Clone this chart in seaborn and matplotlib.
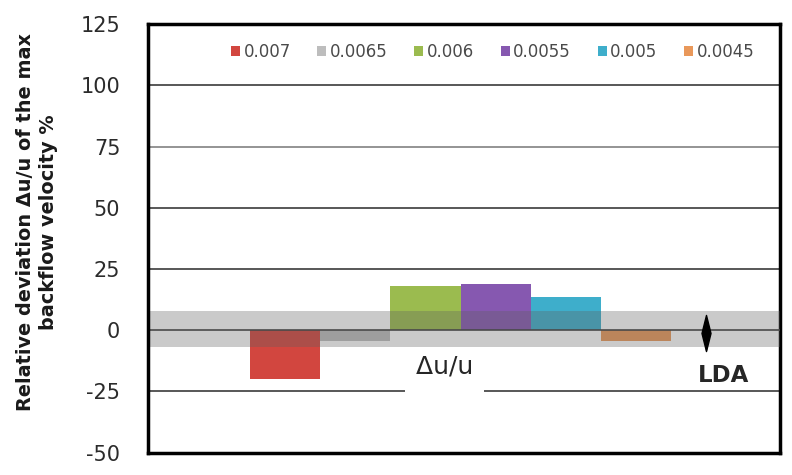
import matplotlib
matplotlib.use("Agg")
import matplotlib.pyplot as plt
import seaborn as sns
import pandas as pd
from matplotlib.path import Path

# data
series = ["0.007", "0.0065", "0.006", "0.0055", "0.005", "0.0045"]
deviation = [-20, -4.5, 18, 19, 13.5, -4.5]
colors = ["#d2463f", "#bdbdbd", "#9bbb4f", "#8658b0", "#3eaecb", "#e9985a"]
band_low, band_high = -7, 8
lda_pos, lda_value = 6, 0
yticks = [-50, -25, 0, 25, 50, 75, 100, 125]

df = pd.DataFrame({"series": series, "deviation": deviation})

sns.set_style("white")
plt.rcParams["font.family"] = ["DejaVu Sans"]
plt.rcParams["axes.unicode_minus"] = False

fig = plt.figure(figsize=(7.92, 4.75), dpi=100)
ax = fig.add_axes([0.187, 0.047, 0.798, 0.902])

sns.barplot(data=df, x="series", y="deviation", hue="series", palette=colors,
            width=1.0, legend=True, ax=ax, zorder=2, saturation=1, linewidth=0)

ax.set_xlim(-1.95, 7.05)
ax.set_ylim(-50, 125)
ax.set_yticks(yticks)
ax.set_xticks([])
ax.set_xlabel("")

# horizontal gridlines
for t in yticks[1:-1]:
    if t == 0:
        continue
    ax.axhline(t, color="#777777" if t == 75 else "#2a2a2a", lw=1.1, zorder=1)

# uncertainty band on top of bars, zero line over it
ax.axhspan(band_low, band_high, color="#606060", alpha=0.33, lw=0, zorder=3)
ax.axhline(0, color="#4a4a4a", lw=1.2, zorder=4)

# LDA reference marker
lda_marker = Path([(0, 1), (0.25, 0), (0, -1), (-0.25, 0), (0, 1)],
                  [Path.MOVETO, Path.LINETO, Path.LINETO, Path.LINETO, Path.CLOSEPOLY])
ax.plot([lda_pos], [lda_value - 1], marker=lda_marker, markersize=26, color="black",
        lw=0, zorder=5)
ax.vlines(lda_pos, -8, 4.5, color="black", lw=1, zorder=5)

ax.text(2.27, -9.8, " Δu/u \n", fontsize=18, ha="center", va="top", zorder=6,
        linespacing=1.0,
        bbox=dict(boxstyle="square,pad=0.1", fc="white", ec="none"))
ax.text(6.24, -18.5, "LDA", fontsize=16.5, fontweight="bold", ha="center",
        va="center", zorder=6)

for side in ["left", "right", "top", "bottom"]:
    ax.spines[side].set_visible(True)
    ax.spines[side].set_color("black")
    ax.spines[side].set_linewidth(2.5)
ax.spines["left"].set_zorder(7)

ax.tick_params(axis="y", length=0, pad=20, labelsize=15, labelcolor="#2b2b2b")

ax.set_ylabel("Relative deviation Δu/u of the max\nbackflow velocity %",
              fontsize=13.9, fontweight="bold", color="#1a1a1a", linespacing=1.3)
ax.yaxis.set_label_coords(-0.142, 0.538)

leg = ax.legend(loc="center", bbox_to_anchor=(0.545, 0.935), ncol=6, frameon=False,
                handlelength=0.55, handleheight=0.55, handletextpad=0.2,
                columnspacing=1.6, fontsize=12)
for txt in leg.get_texts():
    txt.set_color("#4a4a4a")

fig.savefig("out.png", dpi=100)
